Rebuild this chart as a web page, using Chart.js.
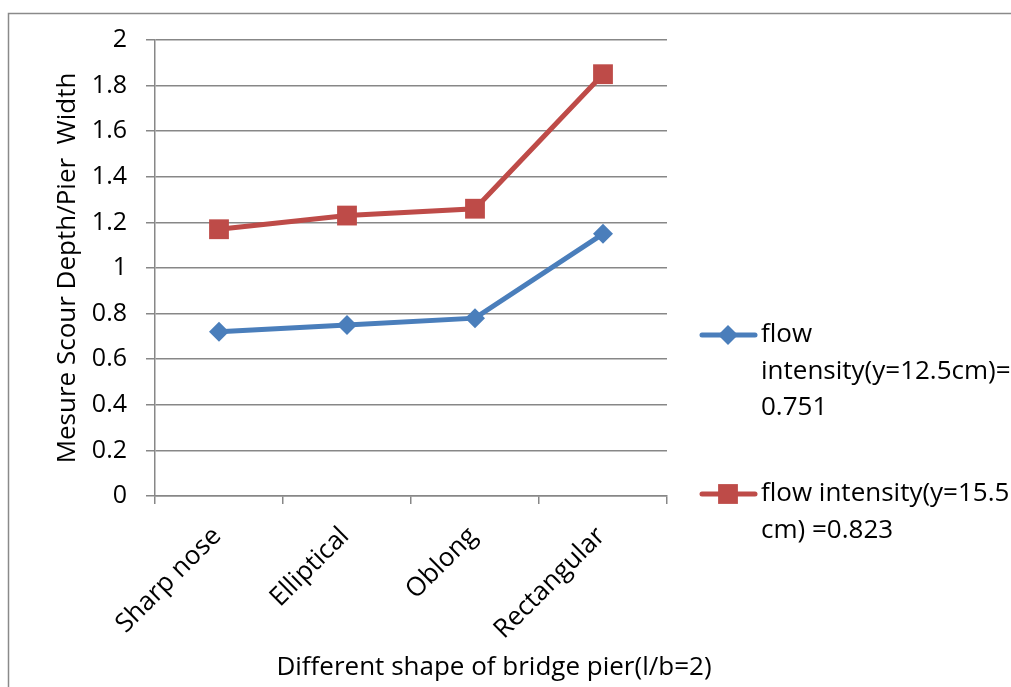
<!DOCTYPE html>
<html>
<head>
<meta charset="utf-8">
<title>Scour depth by pier shape</title>
<script src="https://cdn.jsdelivr.net/npm/chart.js@4.4.1/dist/chart.umd.min.js"></script>
<style>
  body { margin: 0; background: #fff; }
  #wrap { width: 1011px; height: 687px; }
</style>
</head>
<body>
<div id="wrap"><canvas id="scour-graph" width="1011" height="687"></canvas></div>
<script>
// pier shapes along the x axis
let shapes = ['Sharp nose', 'Elliptical', 'Oblong', 'Rectangular']

// scour depth / pier width for each flow intensity
let depth125 = [0.72, 0.75, 0.78, 1.15]
let depth155 = [1.17, 1.23, 1.26, 1.85]

let legend125 = ['flow', 'intensity(y=12.5cm)=', '0.751']
let legend155 = ['flow intensity(y=15.5', 'cm) =0.823']

let yTitle = 'Mesure Scour Depth/Pier  Width'
let xTitle = 'Different shape of bridge pier(l/b=2)'

let fontFam = '"Open Sans", Lato, sans-serif'
let fontSize = 26
let gridGray = '#878787'
let blue = '#4a7ebb'
let red = '#be4b48'

// frame, x title and the side legend
const extras = {
  id: 'extras',
  afterDraw: (chart) => {
    let ctx = chart.ctx
    ctx.save()
    ctx.strokeStyle = '#8a8a8a'
    ctx.lineWidth = 1.5
    ctx.strokeRect(8.5, 13.5, 1100, 800)

    ctx.fillStyle = '#000'
    ctx.font = fontSize + 'px ' + fontFam
    ctx.textAlign = 'center'
    ctx.textBaseline = 'middle'
    ctx.fillText(xTitle, 494, 668)

    const drawEntry = (ds, lines, y) => {
      ctx.strokeStyle = ds.borderColor
      ctx.lineWidth = 5
      ctx.lineCap = 'round'
      ctx.beginPath()
      ctx.moveTo(702, y)
      ctx.lineTo(755, y)
      ctx.stroke()
      ctx.fillStyle = ds.borderColor
      let r = ds.pointRadius
      ctx.beginPath()
      if (ds.pointStyle === 'rectRot') {
        ctx.moveTo(728, y - r)
        ctx.lineTo(728 + r, y)
        ctx.lineTo(728, y + r)
        ctx.lineTo(728 - r, y)
      } else {
        let s = r * Math.SQRT1_2
        ctx.rect(728 - s, y - s, 2 * s, 2 * s)
      }
      ctx.fill()
      ctx.fillStyle = '#000'
      ctx.textAlign = 'left'
      lines.forEach((t, i) => ctx.fillText(t, 761, y + i * 36.5))
    }
    let sets = chart.data.datasets
    drawEntry(sets[0], legend125, 335)
    drawEntry(sets[1], legend155, 494)
    ctx.restore()
  }
}

new Chart('scour-graph', {
  type: 'line',
  data: {
    labels: shapes,
    datasets: [
      {
        data: depth125,
        borderColor: blue,
        backgroundColor: blue,
        borderWidth: 5,
        pointStyle: 'rectRot',
        pointRadius: 10,
        pointHoverRadius: 10,
        pointBorderWidth: 0,
        tension: 0
      },
      {
        data: depth155,
        borderColor: red,
        backgroundColor: red,
        borderWidth: 5,
        pointStyle: 'rect',
        pointRadius: 14,
        pointHoverRadius: 14,
        pointBorderWidth: 0,
        tension: 0
      }
    ]
  },
  options: {
    responsive: false,
    animation: false,
    events: [],
    layout: { padding: { left: 0, right: 344, top: 40, bottom: 0 } },
    plugins: {
      legend: { display: false },
      tooltip: { enabled: false }
    },
    scales: {
      x: {
        offset: true,
        afterFit: (s) => { s.height = 191 },
        grid: {
          offset: true,
          drawOnChartArea: false,
          drawTicks: true,
          tickLength: 8,
          color: gridGray,
          lineWidth: 1.5
        },
        border: { color: gridGray, width: 1.5 },
        ticks: {
          color: '#000',
          font: { family: fontFam, size: fontSize },
          maxRotation: 45,
          minRotation: 45,
          padding: 17,
          labelOffset: -2
        }
      },
      y: {
        min: 0,
        max: 2,
        afterFit: (s) => { s.width = 155 },
        grid: {
          color: gridGray,
          lineWidth: 1.5,
          drawTicks: true,
          tickLength: 9
        },
        border: { color: gridGray, width: 1.5 },
        ticks: {
          stepSize: 0.2,
          color: '#000',
          padding: 19,
          font: { family: fontFam, size: 25 },
          callback: (v) => Math.round(v * 10) / 10
        },
        title: {
          display: true,
          text: yTitle,
          color: '#000',
          font: { family: fontFam, size: fontSize },
          padding: { top: 52, bottom: 0 }
        }
      }
    }
  },
  plugins: [extras]
})
</script>
</body>
</html>
